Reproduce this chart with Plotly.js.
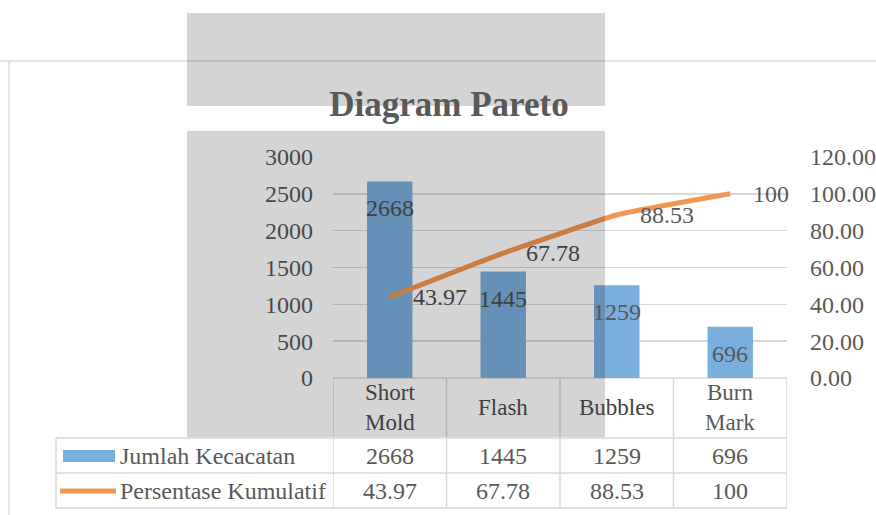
<!DOCTYPE html>
<html>
<head>
<meta charset="utf-8">
<script src="https://cdn.plot.ly/plotly-3.0.1.min.js"></script>
<style>html,body{margin:0;padding:0;background:#fff;}#chart{width:876px;height:515px;}</style>
</head>
<body>
<div id="chart"></div>
<script>
const categories = ['Short Mold', 'Flash', 'Bubbles', 'Burn Mark'];
const headerLabels = ['Short<br>Mold', 'Flash', 'Bubbles', 'Burn<br>Mark'];
const jumlah = [2668, 1445, 1259, 696];
const persen = [43.97, 67.78, 88.53, 100];
const persenText = ['43.97', '67.78', '88.53', '100'];
const seriesNames = ['Jumlah Kecacatan', 'Persentase Kumulatif'];

const FONT = '"Liberation Serif", "Times New Roman", serif';
const TXT = '#595959', TXT_DARK = '#404040';
const GRID = '#d9d9d9';
const BLUE = '#7AAEDC', ORANGE = '#F29752';
const FS = 24;

// pixel -> paper helpers (plot area: x 333..787, y 157..378)
const L = 333, R = 787, T = 157, B = 378;
const px = X => (X - L) / (R - L);
const py = Y => (B - Y) / (B - T);

const traces = [
  {type: 'bar', x: categories, y: jumlah, name: seriesNames[0],
   marker: {color: BLUE}, width: 0.4, hoverinfo: 'none'},
  {type: 'scatter', mode: 'lines', x: categories, y: persen, yaxis: 'y2',
   name: seriesNames[1], line: {color: ORANGE, width: 5, shape: 'spline', smoothing: 0.4},
   hoverinfo: 'none'}
];

const annotations = [];
const colFor = i => (i < 2 ? TXT_DARK : TXT);
categories.forEach((c, i) => {
  annotations.push({x: c, y: jumlah[i], xref: 'x', yref: 'y', text: String(jumlah[i]),
    showarrow: false, yshift: -27, yanchor: 'middle',
    font: {family: FONT, size: FS, color: colFor(i)}});
  annotations.push({x: c, y: persen[i], xref: 'x', yref: 'y2', text: persenText[i],
    showarrow: false, xanchor: 'left', xshift: 21, yanchor: 'middle',
    font: {family: FONT, size: FS, color: colFor(i)}});
  annotations.push({x: c, y: py(407), xref: 'x', yref: 'paper', text: headerLabels[i],
    showarrow: false, yanchor: 'middle', font: {family: FONT, size: FS - 1, color: i < 3 ? TXT_DARK : TXT}});
  annotations.push({x: c, y: py(456), xref: 'x', yref: 'paper', text: String(jumlah[i]),
    showarrow: false, yanchor: 'middle', font: {family: FONT, size: FS, color: TXT}});
  annotations.push({x: c, y: py(491), xref: 'x', yref: 'paper', text: persenText[i],
    showarrow: false, yanchor: 'middle', font: {family: FONT, size: FS, color: TXT}});
});
annotations.push({x: px(118), y: py(456), xref: 'paper', yref: 'paper', text: seriesNames[0],
  showarrow: false, xanchor: 'left', yanchor: 'middle', font: {family: FONT, size: FS, color: TXT}});
annotations.push({x: px(118), y: py(491), xref: 'paper', yref: 'paper', text: seriesNames[1],
  showarrow: false, xanchor: 'left', yanchor: 'middle', font: {family: FONT, size: FS, color: TXT}});

const shapes = [];
const hline = (x0, x1, Y, xref) => shapes.push({type: 'line', xref: xref || 'paper', yref: 'paper',
  x0: x0, x1: x1, y0: py(Y), y1: py(Y), line: {color: GRID, width: 1.5}, layer: 'below'});
const vline = (X, Y0, Y1, xref) => shapes.push({type: 'line', xref: xref || 'paper', yref: 'paper',
  x0: X, x1: X, y0: py(Y0), y1: py(Y1), line: {color: GRID, width: 1.5}, layer: 'below'});

hline(-0.5, 3.5, 378, 'x');
hline(px(56), 1, 438);
hline(px(56), 1, 473);
hline(px(56), 1, 508);
[-0.5, 0.5, 1.5, 2.5, 3.5].forEach(v => vline(v, 378, 508, 'x'));
vline(px(56), 438, 508);
shapes.push({type: 'rect', xref: 'paper', yref: 'paper', x0: px(63), x1: px(115), y0: py(462), y1: py(450),
  fillcolor: BLUE, line: {width: 0}});
shapes.push({type: 'line', xref: 'paper', yref: 'paper', x0: px(60), x1: px(116), y0: py(491), y1: py(491),
  line: {color: ORANGE, width: 5}});
shapes.push({type: 'line', xref: 'paper', yref: 'paper', x0: px(0), x1: px(876), y0: py(61), y1: py(61),
  line: {color: '#c8c8c8', width: 1}});
shapes.push({type: 'line', xref: 'paper', yref: 'paper', x0: px(9), x1: px(9), y0: py(61), y1: py(515),
  line: {color: '#c8c8c8', width: 1}});
shapes.push({type: 'rect', xref: 'paper', yref: 'paper', x0: px(187), x1: px(605), y0: py(106), y1: py(13),
  fillcolor: 'rgba(0,0,0,0.17)', line: {width: 0}, layer: 'above'});
shapes.push({type: 'rect', xref: 'paper', yref: 'paper', x0: px(187), x1: px(605), y0: py(437), y1: py(131),
  fillcolor: 'rgba(0,0,0,0.17)', line: {width: 0}, layer: 'above'});

const layout = {
  width: 876, height: 515,
  margin: {l: L, r: 876 - R, t: T, b: 515 - B, pad: 0},
  paper_bgcolor: '#ffffff', plot_bgcolor: '#ffffff',
  showlegend: false,
  bargap: 0.6,
  title: {text: '<b>Diagram Pareto</b>', x: 449 / 876, y: (515 - 104) / 515,
    xanchor: 'center', yanchor: 'middle', font: {family: FONT, size: 35, color: TXT}},
  xaxis: {type: 'category', range: [-0.5, 3.5], showticklabels: false, showgrid: false,
    zeroline: false, showline: false, ticks: ''},
  yaxis: {range: [0, 3000], dtick: 500, tick0: 0, showgrid: true, gridcolor: GRID, gridwidth: 1.5,
    zeroline: false, showline: false, ticks: '', ticklabelstandoff: 19,
    tickfont: {family: FONT, size: FS, color: TXT}},
  yaxis2: {range: [0, 120], dtick: 20, tick0: 0, overlaying: 'y', side: 'right', showgrid: false,
    zeroline: false, showline: false, ticks: '', tickformat: '.2f', ticklabelstandoff: 22,
    tickfont: {family: FONT, size: FS, color: TXT}},
  annotations: annotations,
  shapes: shapes
};

Plotly.newPlot('chart', traces, layout, {staticPlot: true, displayModeBar: false});
</script>
</body>
</html>
